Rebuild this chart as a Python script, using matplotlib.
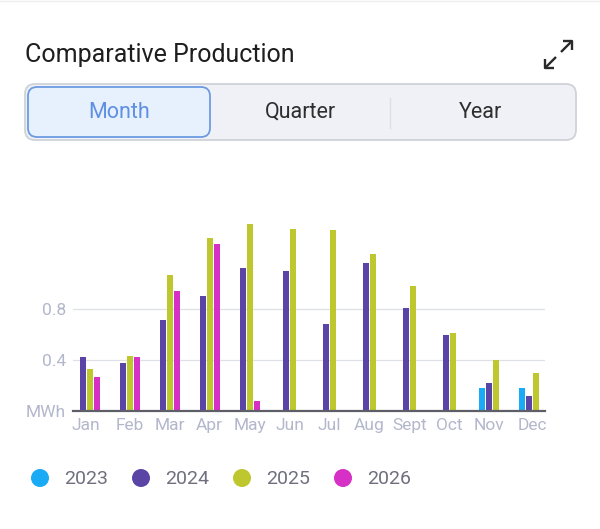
import matplotlib.pyplot as plt
import numpy as np
from matplotlib.patches import FancyBboxPatch, Circle
from matplotlib.transforms import ScaledTranslation

plt.rcParams['font.family'] = ['Roboto', 'DejaVu Sans']

months = ["Jan", "Feb", "Mar", "Apr", "May", "Jun", "Jul", "Aug", "Sept", "Oct", "Nov", "Dec"]
years = ["2023", "2024", "2025", "2026"]
colors = ["#1aabf6", "#5a45a6", "#bec72e", "#d630c6"]

# MWh per month, None = no data
p2023 = [None, None, None, None, None, None, None, None, None, None, 0.18, 0.18]
p2024 = [0.42, 0.38, 0.71, 0.90, 1.12, 1.10, 0.68, 1.16, 0.81, 0.60, 0.22, 0.12]
p2025 = [0.33, 0.43, 1.07, 1.36, 1.47, 1.43, 1.42, 1.23, 0.98, 0.61, 0.40, 0.30]
p2026 = [0.27, 0.42, 0.94, 1.31, 0.08, None, None, None, None, None, None, None]
series = [p2023, p2024, p2025, p2026]

W, H = 600, 529
fig = plt.figure(figsize=(6, 5.29), dpi=100)

# chart area in pixels
left, right, base, top = 73, 545, 411, 207
ax = fig.add_axes([left / W, 1 - base / H, (right - left) / W, (base - top) / H])

pitch = 0.176
width = 0.15
for i in range(len(months)):
    present = [s for s in range(len(series)) if series[s][i] is not None]
    n = len(present)
    for k, s in enumerate(present):
        off = (k - (n - 1) / 2) * pitch
        ax.bar(i + off, series[s][i], width, color=colors[s], zorder=3)

ax.set_xlim(-0.4265, 11.4)
ax.set_ylim(0, 1.6)
ax.set_xticks(np.arange(len(months)))
ax.set_xticklabels(months)
ax.set_yticks([0, 0.4, 0.8])
ax.set_yticklabels(["MWh", "0.4", "0.8"])
ax.tick_params(axis='x', length=0, pad=5, labelsize=12.5, labelcolor="#b3b7cb")
ax.tick_params(axis='y', length=0, pad=5, labelsize=12.5, labelcolor="#b3b7cb")
ax.grid(axis='y', color="#dfe0e7", linewidth=0.9, zorder=0)
for sp in ["top", "right", "left"]:
    ax.spines[sp].set_visible(False)
ax.spines["bottom"].set_color("#5e5e68")
ax.spines["bottom"].set_linewidth(1.6)
ax.spines["bottom"].set_zorder(4)
ax.set_facecolor("none")

# first / last month labels kept inside the axis
labs = ax.get_xticklabels()
labs[0].set_transform(labs[0].get_transform() + ScaledTranslation(-4 / 100, 0, fig.dpi_scale_trans))
labs[-1].set_transform(labs[-1].get_transform() + ScaledTranslation(3.5 / 100, 0, fig.dpi_scale_trans))

# overlay in pixel coordinates for header and legend
ov = fig.add_axes([0, 0, 1, 1], zorder=-1)
ov.set_xlim(0, W)
ov.set_ylim(H, 0)
ov.axis('off')

ov.plot([0, W], [1, 1], color="#eeeeee", lw=1)
ov.text(25, 55, "Comparative Production", fontsize=18, color="#1e1e1e",
        va='center', ha='left')

# expand icon
ic = dict(color="#2a2a2a", lw=1.7, solid_capstyle='butt')
ov.plot([561, 572], [52, 41], **ic)
ov.plot([563, 572, 572], [41, 41, 50], **ic)
ov.plot([556, 545], [57, 68], **ic)
ov.plot([545, 545, 554], [59, 68, 68], **ic)

ov.add_patch(FancyBboxPatch((25, 84), 551, 56, boxstyle="round,pad=0,rounding_size=10",
                            facecolor="#eff1f6", edgecolor="#cfd2d9", lw=1.3))
ov.add_patch(FancyBboxPatch((28, 87), 182, 50, boxstyle="round,pad=0,rounding_size=9",
                            facecolor="#e6f1fd", edgecolor="#6d9be2", lw=1.3))
ov.plot([390, 390], [98, 128], color="#dcdfe5", lw=1)
ov.text(119, 112, "Month", fontsize=15.5, color="#5f8fe4", ha='center', va='center')
ov.text(300, 112, "Quarter", fontsize=15.5, color="#2e2e2e", ha='center', va='center')
ov.text(481, 112, "Year", fontsize=15.5, color="#2e2e2e", ha='center', va='center')

# legend
for j, (y, c) in enumerate(zip(years, colors)):
    cx = 40 + j * 101
    ov.add_patch(Circle((cx, 478), 9, facecolor=c, edgecolor='none'))
    ov.text(cx + 24, 479, y, fontsize=14, color="#6f6f7e", ha='left', va='center')

fig.savefig("out.png", dpi=100)
